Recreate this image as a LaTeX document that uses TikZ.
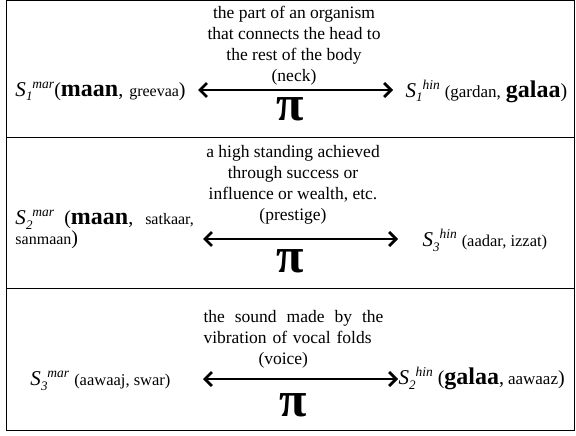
\documentclass[tikz,border=0pt]{standalone}
\usepackage{fontspec}
\setmainfont{Liberation Serif}
\usetikzlibrary{arrows.meta}

\newcommand{\sense}[2]{{\fontsize{21}{21}\selectfont\itshape S}\raisebox{-5pt}{\fontsize{13}{13}\selectfont\itshape #1}\raisebox{8pt}{\fontsize{13.5}{13.5}\selectfont\itshape #2}}
\newcommand{\smallword}[1]{{\fontsize{16}{16}\selectfont #1}}
\newcommand{\boldword}[1]{{\fontsize{24}{24}\selectfont\bfseries #1}}

\begin{document}
\begin{tikzpicture}[
  x=1pt,
  y=-1pt,
  line width=1pt,
  glossbox/.style={
    align=center,
    inner sep=0pt,
    font=\fontsize{17.5}{21}\selectfont,
  },
  sensebox/.style={
    inner sep=0pt,
    font=\fontsize{20}{17}\selectfont,
  },
  pibox/.style={inner sep=0pt, font=\fontsize{50}{50}\selectfont\bfseries},
  pairarrow/.style={
    {Straight Barb[length=7pt,width=14pt]}-{Straight Barb[length=7pt,width=14pt]},
    line width=2.8pt,
  },
]
\useasboundingbox (0,0) rectangle (576,436);
% table frame
\draw (6,1) rectangle (574,430);
\draw (6,137) -- (574,137);
\draw (6,288) -- (574,288);

% row 1: neck
\node[glossbox, anchor=north] (gloss1) at (294,6) {the part of an organism\\that connects the head to\\the rest of the body\\(neck)};
\node[sensebox, anchor=base west] (mar1) at (15,96) {\sense{1}{mar}(\boldword{maan},\hspace{6pt}\smallword{greevaa})};
\node[sensebox, anchor=base west] (hin1) at (405,97) {\sense{1}{hin} {\fontsize{17}{17}\selectfont(gardan,} \boldword{galaa})};
\node[pibox] (pi1) at (290,109) {π};
\coordinate (a1w) at (198,90);
\coordinate (a1e) at (393,90);
\draw[pairarrow] (a1w) -- (a1e);

% row 2: prestige
\node[glossbox, anchor=north] (gloss2) at (293,145) {a high standing achieved\\through success or\\influence or wealth, etc.\\(prestige)};
\node[sensebox, anchor=north west, align=left] (mar2) at (15,210) {\sense{2}{mar}\hspace{10pt}(\boldword{maan},\hspace{12pt}\smallword{satkaar,}\\\smallword{sanmaan})};
\node[sensebox, anchor=base west] (hin2) at (422,246) {\sense{3}{hin} {\fontsize{16.5}{16.5}\selectfont(aadar, izzat)}};
\node[pibox] (pi2) at (290,261) {π};
\coordinate (a2w) at (203,239);
\coordinate (a2e) at (398,239);
\draw[pairarrow] (a2w) -- (a2e);

% row 3: voice
\node[glossbox, align=left, anchor=north west, text width=180pt] (gloss3) at (203,310) {\makebox[180pt][l]{the\hfill sound\hfill made\hfill by\hfill the}\\vibration of vocal folds\\\hspace*{55pt}(voice)};
\node[sensebox, anchor=base west] (mar3) at (30,385) {\sense{3}{mar} {\fontsize{16.5}{16.5}\selectfont(aawaaj, swar)}};
\node[sensebox, anchor=base west] (hin3) at (398,384) {\sense{2}{hin} (\boldword{galaa},\hspace{4pt}{\fontsize{17}{17}\selectfont aawaaz})};
\node[pibox] (pi3) at (293,405) {π};
\coordinate (a3w) at (203,379);
\coordinate (a3e) at (398,379);
\draw[pairarrow] (a3w) -- (a3e);
\end{tikzpicture}
\end{document}
